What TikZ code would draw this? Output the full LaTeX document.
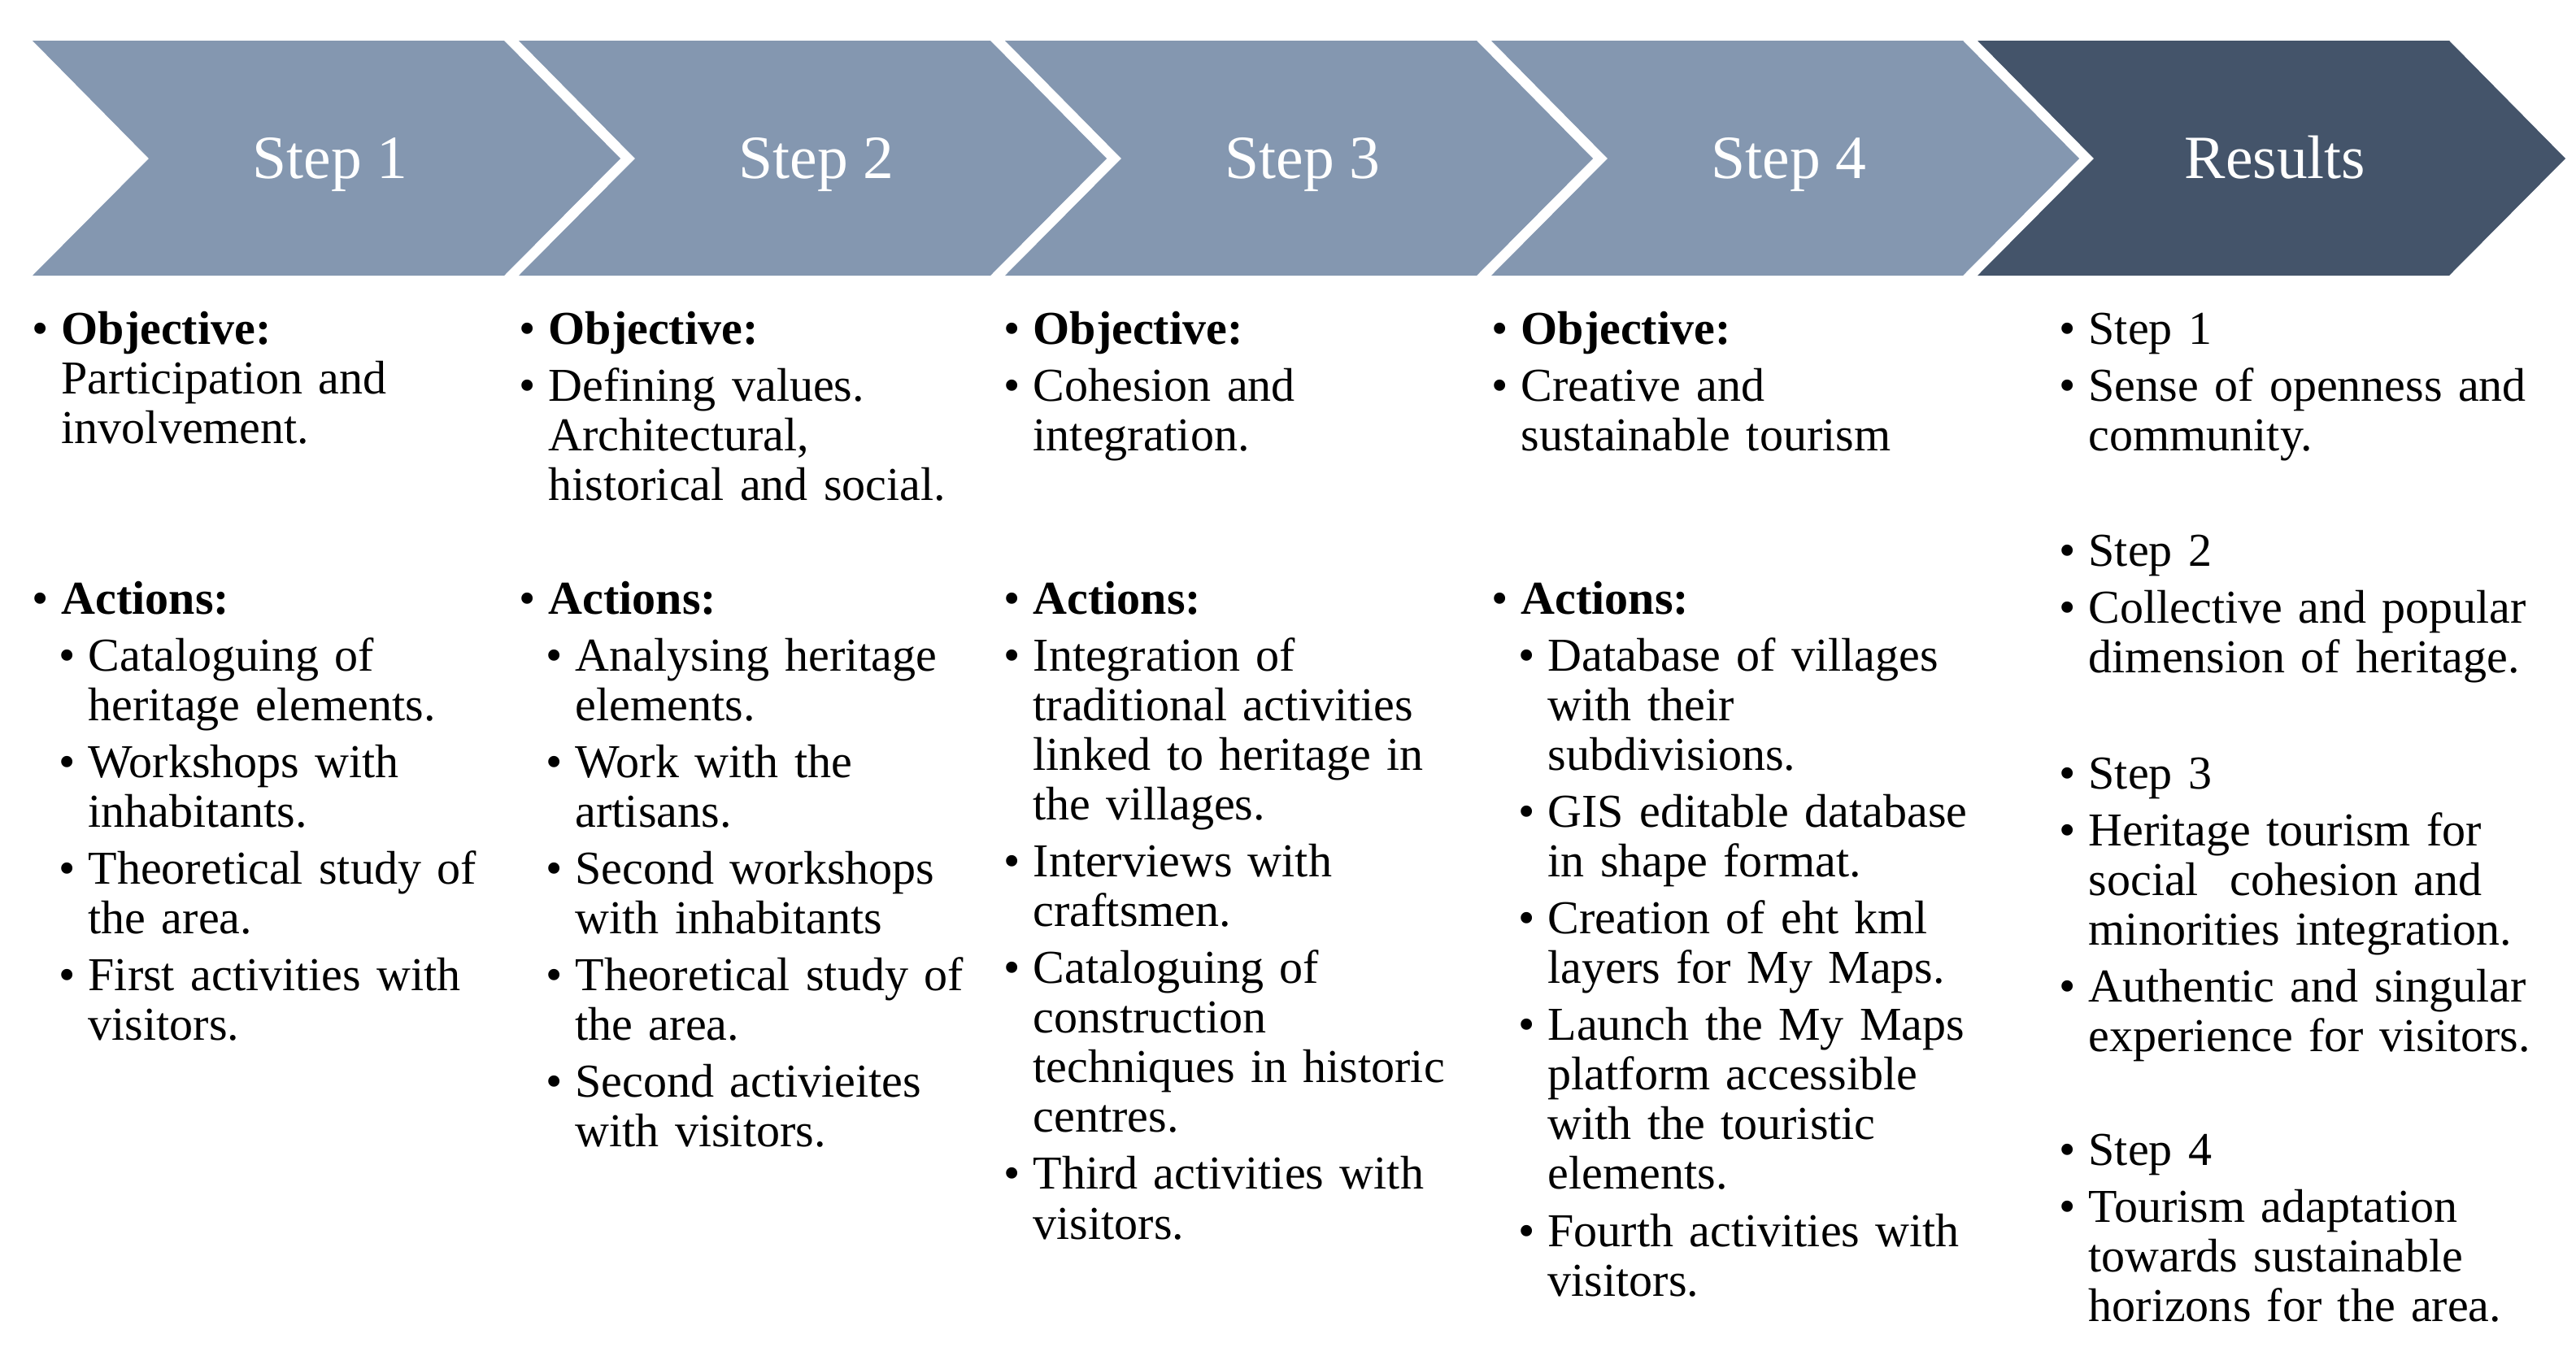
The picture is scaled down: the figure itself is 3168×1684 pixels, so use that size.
\documentclass[tikz,border=0pt]{standalone}
\usepackage{fontspec}
\setmainfont{Liberation Serif}
\definecolor{stepblue}{HTML}{8497B0}
\definecolor{resblue}{HTML}{44546A}
\newlength\bulind
\setlength\bulind{0.36cm}
\newcommand{\bitem}[1]{\hangindent=\bulind\hangafter=1\noindent\makebox[\bulind][l]{\textbullet}#1\par}
\newcommand{\sitem}[1]{{\leftskip=0.33cm\hangindent=\bulind\hangafter=1\noindent\makebox[\bulind][l]{\textbullet}#1\par}}
\begin{document}
\begin{tikzpicture}[x=0.01cm, y=-0.01cm,
    steplabel/.style={anchor=base, inner sep=0pt, text=white, font=\fontsize{21.5}{24}\selectfont},
    colbox/.style={anchor=base west, inner sep=0pt, text width=6.5cm, align=left,
        font=\fontsize{16.5}{17.37}\selectfont\setlength\parskip{0.09cm}}]
\useasboundingbox (0,0) rectangle (3168,1684);
% chevrons
\foreach \i/\lab/\col in {0/Step 1/stepblue, 1/Step 2/stepblue, 2/Step 3/stepblue, 3/Step 4/stepblue, 4/Results/resblue} {
    \fill[\col] ({40+598*\i},50) -- ++(580,0) -- ++(143,145) -- ++(-143,144) -- ++(-580,0) -- ++(143,-144) -- cycle;
    \node[steplabel] (step\i) at ({406+598*\i},219) {\lab};
}
% step 1
\node[colbox] (obj1) at (39,423) {\bitem{\textbf{Objective:}\newline Participation and\newline involvement.}};
\node[colbox] (act1) at (39,755) {\bitem{\textbf{Actions:}}
    \sitem{Cataloguing of\newline heritage elements.}
    \sitem{Workshops with\newline inhabitants.}
    \sitem{Theoretical study of\newline the area.}
    \sitem{First activities with\newline visitors.}};
% step 2
\node[colbox] (obj2) at (638,423) {\bitem{\textbf{Objective:}}
    \bitem{Defining values.\newline Architectural,\newline historical and social.}};
\node[colbox] (act2) at (638,755) {\bitem{\textbf{Actions:}}
    \sitem{Analysing heritage\newline elements.}
    \sitem{Work with the\newline artisans.}
    \sitem{Second workshops\newline with inhabitants}
    \sitem{Theoretical study of\newline the area.}
    \sitem{Second activieites\newline with visitors.}};
% step 3
\node[colbox] (obj3) at (1234,423) {\bitem{\textbf{Objective:}}
    \bitem{Cohesion and\newline integration.}};
\node[colbox] (act3) at (1234,755) {\bitem{\textbf{Actions:}}
    \bitem{Integration of\newline traditional activities\newline linked to heritage in\newline the villages.}
    \bitem{Interviews with\newline craftsmen.}
    \bitem{Cataloguing of\newline construction\newline techniques in historic\newline centres.}
    \bitem{Third activities with\newline visitors.}};
% step 4
\node[colbox] (obj4) at (1834,423) {\bitem{\textbf{Objective:}}
    \bitem{Creative and\newline sustainable tourism}};
\node[colbox] (act4) at (1834,755) {\bitem{\textbf{Actions:}}
    \sitem{Database of villages\newline with their\newline subdivisions.}
    \sitem{GIS editable database\newline in shape format.}
    \sitem{Creation of eht kml\newline layers for My Maps.}
    \sitem{Launch the My Maps\newline platform accessible\newline with the touristic\newline elements.}
    \sitem{Fourth activities with\newline visitors.}};
% results
\node[colbox] (res1) at (2532,423) {\bitem{Step 1}
    \bitem{Sense of openness and\newline community.}};
\node[colbox] (res2) at (2532,696) {\bitem{Step 2}
    \bitem{Collective and popular\newline dimension of heritage.}};
\node[colbox] (res3) at (2532,970) {\bitem{Step 3}
    \bitem{Heritage tourism for\newline social\ \ cohesion and\newline minorities integration.}
    \bitem{Authentic and singular\newline experience for visitors.}};
\node[colbox] (res4) at (2532,1433) {\bitem{Step 4}
    \bitem{Tourism adaptation\newline towards sustainable\newline horizons for the area.}};
\end{tikzpicture}
\end{document}
